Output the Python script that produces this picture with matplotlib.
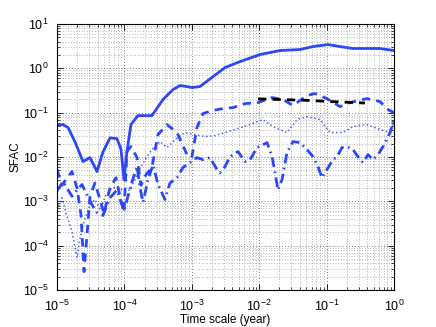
import matplotlib
matplotlib.use("Agg")
import matplotlib.pyplot as plt
from matplotlib.ticker import LogLocator, NullFormatter

plt.rcParams['font.family'] = ['Liberation Sans', 'DejaVu Sans']
plt.rcParams['mathtext.fontset'] = 'custom'
plt.rcParams['mathtext.rm'] = 'Liberation Sans'
plt.rcParams['mathtext.it'] = 'Liberation Sans'

# solid series
solid_x = [1.0e-5, 1.23e-5, 1.46e-5, 1.85e-5, 2.43e-5, 3.09e-5, 3.92e-5, 4.81e-5, 6.11e-5, 7.76e-5,
           8.9e-5, 9.86e-5, 1.09e-4, 1.25e-4, 1.59e-4, 2.56e-4, 3.74e-4, 5.26e-4, 6.68e-4, 8.49e-4,
           1.0e-3, 1.32e-3, 2.07e-3, 3.11e-3, 5.19e-3, 1.03e-2, 2.04e-2, 4.03e-2, 6.28e-2, 0.105,
           0.158, 0.246, 0.397, 0.62, 1.0]
solid_y = [0.051, 0.054, 0.046, 0.022, 0.0079, 0.0097, 0.0047, 0.013, 0.027, 0.026,
           0.015, 0.0031, 0.013, 0.054, 0.086, 0.086, 0.198, 0.332, 0.409, 0.388,
           0.369, 0.388, 0.653, 1.04, 1.42, 2.05, 2.52, 2.66, 3.10, 3.44,
           3.10, 2.80, 2.80, 2.80, 2.52]

# dashed series
dash_x = [1.0e-5, 1.19e-5, 1.41e-5, 1.67e-5, 1.98e-5, 2.27e-5, 2.52e-5, 2.79e-5, 3.09e-5, 3.66e-5,
          4.35e-5, 4.98e-5, 6.11e-5, 7.5e-5, 8.6e-5, 9.86e-5, 1.09e-4, 1.25e-4, 1.54e-4, 1.76e-4,
          2.09e-4, 2.56e-4, 3.15e-4, 4.29e-4, 6.03e-4, 8.49e-4, 1.0e-3, 1.19e-3, 1.47e-3, 2.0e-3,
          2.9e-3, 4.08e-3, 6.15e-3, 9.6e-3, 1.55e-2, 2.25e-2, 3.17e-2, 5.12e-2, 6.73e-2, 0.101,
          0.158, 0.222, 0.397, 0.62, 0.815, 1.0]
dash_y = [0.0052, 0.0023, 0.0034, 0.0047, 0.0020, 5.0e-4, 2.6e-5, 1.8e-4, 0.0013, 0.0026,
          0.0011, 5.3e-4, 0.0020, 0.0034, 0.0013, 5.6e-4, 0.0133, 0.0172, 0.0097, 0.0023,
          0.0040, 0.0058, 0.0321, 0.0539, 0.0356, 0.0113, 0.0097, 0.0461, 0.0955, 0.111,
          0.124, 0.130, 0.160, 0.169, 0.219, 0.198, 0.145, 0.243, 0.270, 0.208,
          0.137, 0.169, 0.208, 0.178, 0.117, 0.100]

# dash-dot series
dd_x = [1.0e-5, 1.23e-5, 1.46e-5, 1.67e-5, 1.98e-5, 2.35e-5, 2.79e-5, 3.31e-5, 3.92e-5, 4.81e-5,
        6.11e-5, 7.76e-5, 9.86e-5, 1.30e-4, 1.54e-4, 1.70e-4, 1.89e-4, 2.24e-4, 2.66e-4, 3.15e-4,
        4.0e-4, 4.75e-4, 6.03e-4, 7.4e-4, 9.4e-4, 1.19e-3, 1.47e-3, 1.86e-3, 2.37e-3, 2.62e-3,
        3.11e-3, 3.69e-3, 4.84e-3, 6.15e-3, 7.3e-3, 9.27e-3, 1.31e-2, 1.55e-2, 1.72e-2, 1.90e-2,
        2.18e-2, 2.58e-2, 3.17e-2, 4.03e-2, 5.12e-2, 6.28e-2, 7.45e-2, 8.55e-2, 0.101, 0.124,
        0.143, 0.169, 0.201, 0.246, 0.313, 0.347, 0.411, 0.488, 0.579, 0.687,
        0.873, 1.0]
dd_y = [0.0017, 0.0028, 0.0018, 0.0013, 0.0018, 0.0024, 0.0014, 8.4e-4, 5.6e-4, 4.8e-4,
        0.0012, 0.0018, 6.2e-4, 0.0028, 0.0061, 0.0021, 9.4e-4, 0.0031, 0.0067, 0.0024,
        0.0011, 0.0026, 0.0034, 0.0058, 0.0075, 0.0097, 0.0087, 0.0097, 0.0052, 0.0044,
        0.0061, 0.0102, 0.0133, 0.0079, 0.0087, 0.0163, 0.0211, 0.0102, 0.0044, 0.0018,
        0.0031, 0.0126, 0.0223, 0.0211, 0.0147, 0.0102, 0.0061, 0.0034, 0.0052, 0.0087,
        0.0102, 0.0163, 0.0172, 0.0147, 0.0087, 0.0075, 0.0113, 0.0087, 0.0113, 0.0172,
        0.0356, 0.0699]

# dotted series
dot_x = [1.0e-5, 1.19e-5, 1.41e-5, 1.67e-5, 1.98e-5, 2.19e-5, 2.52e-5, 3.09e-5, 3.66e-5, 4.35e-5,
         5.33e-5, 6.55e-5, 8.03e-5, 9.86e-5, 1.21e-4, 1.54e-4, 2.02e-4, 2.56e-4, 3.38e-4, 4.29e-4,
         5.64e-4, 7.92e-4, 1.11e-3, 1.57e-3, 2.21e-3, 3.11e-3, 4.38e-3, 7.3e-3, 1.14e-2, 1.60e-2,
         2.58e-2, 3.64e-2, 5.12e-2, 7.98e-2, 0.112, 0.175, 0.246, 0.397, 0.62, 0.873,
         1.0]
dot_y = [6.5e-4, 0.0012, 4.5e-4, 2.1e-4, 5.4e-5, 1.4e-4, 3.5e-4, 8.4e-4, 0.0011, 6.5e-4,
         0.0014, 0.0020, 0.0021, 0.0017, 0.0018, 0.0040, 0.0087, 0.0147, 0.0223, 0.0163,
         0.0247, 0.0356, 0.0321, 0.0289, 0.0304, 0.0356, 0.0416, 0.0539, 0.0699, 0.0486,
         0.0356, 0.0699, 0.0817, 0.0699, 0.0356, 0.0356, 0.0486, 0.0539, 0.0416, 0.0356,
         0.0598]

# black reference segment
ref_x = [9.6e-3, 0.02, 0.05, 0.1, 0.2, 0.37]
ref_y = [0.205, 0.198, 0.19, 0.18, 0.172, 0.165]

x_ticks = [1e-5, 1e-4, 1e-3, 1e-2, 1e-1, 1e0]
y_ticks = [1e-5, 1e-4, 1e-3, 1e-2, 1e-1, 1e0, 1e1]

blue = '#2b47f7'

fig = plt.figure(figsize=(4.36, 3.27), dpi=100)
ax = fig.add_axes([0.1307, 0.1131, 0.773, 0.8135])

# grid first so curves sit on top
ax.set_xscale('log')
ax.set_yscale('log')
ax.set_xticks(x_ticks)
ax.set_yticks(y_ticks)
ax.xaxis.set_minor_locator(LogLocator(base=10, subs=range(2, 10), numticks=20))
ax.yaxis.set_minor_locator(LogLocator(base=10, subs=range(2, 10), numticks=20))
ax.xaxis.set_minor_formatter(NullFormatter())
ax.yaxis.set_minor_formatter(NullFormatter())
ax.set_xlim(1e-5, 1)
ax.set_ylim(1e-5, 10)
ax.grid(True, which='major', linestyle=(0, (1, 2.5)), color='0.3', lw=0.6)
ax.grid(True, which='minor', linestyle=(0, (1, 2.5)), color='0.55', lw=0.55)
ax.set_axisbelow(True)

ax.plot(solid_x, solid_y, '-', color=blue, lw=2.0)
ax.plot(dash_x, dash_y, '--', color=blue, lw=2.0, dashes=(3, 2.2))
ax.plot(dot_x, dot_y, ':', color=blue, lw=1.1, alpha=0.85)
ax.plot(dd_x, dd_y, '-.', color=blue, lw=2.0, dashes=(3.5, 1.6, 0.6, 1.6))
ax.plot(ref_x, ref_y, '--', color='black', lw=2.0, dashes=(3, 2.2))

ax.tick_params(which='both', direction='in', top=True, right=True, labelsize=9)
ax.tick_params(which='major', length=4, width=0.6, pad=6)
ax.tick_params(which='minor', length=2, width=0.5)
for s in ax.spines.values():
    s.set_linewidth(0.8)

ax.set_xlabel('Time scale (year)', fontsize=8.5, labelpad=0)
ax.set_ylabel('SFAC', fontsize=8.5, labelpad=1)

fig.savefig('out.png', dpi=100)
